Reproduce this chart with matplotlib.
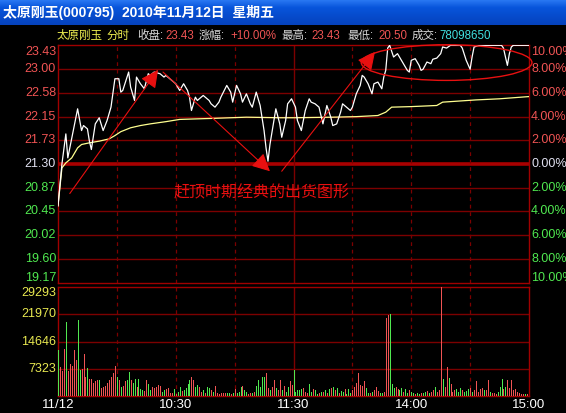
import matplotlib
matplotlib.use('Agg')
import matplotlib.pyplot as plt
import numpy as np
from matplotlib.patches import Ellipse
import matplotlib.transforms as mtrans

plt.rcParams['font.family'] = ['Liberation Sans', 'Noto Sans CJK SC', 'DejaVu Sans']

# ---------------- data ----------------
title = "太原刚玉(000795)  2010年11月12日  星期五"
prev_close = 21.30
price_levels = [23.43, 23.00, 22.58, 22.15, 21.73, 21.30, 20.87, 20.45, 20.02, 19.60, 19.17]
pct_labels = ['10.00%', '8.00%', '6.00%', '4.00%', '2.00%', '0.00%',
              '2.00%', '4.00%', '6.00%', '8.00%', '10.00%']
vol_levels = [29293, 21970, 14646, 7323]
time_ticks = [0, 60, 120, 180, 240]
time_labels = ['11/12', '10:30', '11:30', '14:00', '15:00']
dashed_minutes = [30, 60, 90, 150, 180, 210]
solid_minutes = [120]

price_min = [0, 2, 4, 5, 10, 12, 13, 15, 16, 17, 19, 21, 23, 25, 27, 29, 31, 32, 33, 36,
             37, 39, 40, 42, 44, 46, 47, 49, 52, 54, 55, 58, 60, 62, 64, 66, 67, 68, 70, 71,
             74, 77, 78, 80, 82, 83, 86, 88, 89, 91, 93, 94, 96, 98, 99, 101, 103, 105, 106, 107,
             108, 110, 111, 113, 114, 116, 117, 119, 121, 122, 124, 126, 128, 129, 131, 133, 134, 135, 137, 139,
             140, 142, 144, 145, 147, 149, 150, 152, 154, 155, 156, 158, 160, 161, 163, 165, 166, 167, 168, 169,
             171, 173, 174, 176, 178, 179, 180, 182, 184, 185, 186, 188, 190, 191, 193, 195, 196, 198, 200, 205,
             206, 208, 210, 211, 212, 215, 226, 227, 228, 229, 230, 231, 232, 240]
price_val = [20.55, 21.30, 21.84, 21.41, 22.29, 21.90, 21.99, 21.93, 21.71, 21.56, 22.02, 22.13, 21.90, 22.08, 22.32, 22.83, 22.83, 22.59, 22.62, 22.95,
             22.68, 22.44, 22.86, 22.74, 22.65, 22.92, 22.89, 22.95, 22.92, 22.86, 22.89, 22.80, 22.74, 22.62, 22.74, 22.62, 22.50, 22.26, 22.50, 22.44,
             22.53, 22.44, 22.38, 22.32, 22.41, 22.50, 22.71, 22.59, 22.41, 22.71, 22.56, 22.41, 22.56, 22.38, 22.32, 22.59, 22.35, 21.90, 21.59, 21.35,
             21.65, 22.08, 22.29, 22.02, 21.78, 22.08, 22.38, 22.47, 22.32, 22.08, 21.90, 22.26, 22.47, 22.41, 22.38, 22.32, 22.17, 22.02, 22.35, 22.14,
             21.99, 22.02, 22.23, 22.38, 22.32, 22.26, 22.32, 22.56, 22.71, 22.89, 22.86, 22.74, 22.56, 22.74, 22.77, 22.65, 22.86, 22.98, 23.38, 23.43,
             23.22, 23.28, 23.22, 23.10, 22.98, 22.95, 23.16, 23.19, 23.07, 22.98, 23.00, 23.13, 23.10, 23.18, 23.20, 23.28, 23.40, 23.38, 23.43, 23.43,
             23.38, 23.16, 23.00, 23.22, 23.40, 23.43, 23.43, 23.38, 23.22, 23.07, 23.28, 23.40, 23.43, 23.43]

avg_min = [0, 2, 4, 7, 10, 12, 16, 21, 26, 29, 32, 37, 42, 47, 55, 62, 80, 96, 113, 120,
           140, 152, 163, 167, 170, 180, 193, 196, 213, 225, 240]
avg_val = [20.55, 21.23, 21.32, 21.41, 21.59, 21.65, 21.68, 21.71, 21.75, 21.81, 21.88, 21.95, 21.99, 22.02, 22.06, 22.10, 22.12, 22.14, 22.13, 22.13,
           22.14, 22.15, 22.17, 22.23, 22.32, 22.33, 22.35, 22.41, 22.45, 22.47, 22.51]

volume = [12300, 7800, 6600, 12700, 19900, 6600, 8700, 8100, 12300, 9600,
          20400, 6900, 7200, 11400, 5100, 7500, 4500, 4500, 3600, 3900,
          4200, 4300, 2100, 2300, 2700, 3400, 4300, 5100, 6300, 8100,
          5100, 4300, 2500, 2700, 3900, 4300, 6500, 4300, 3600, 4700,
          2500, 4500, 1800, 1600, 1400, 4200, 3300, 1600, 2300, 2100,
          2500, 3000, 2700, 1200, 1600, 1800, 2100, 700, 900, 1800,
          500, 1200, 2500, 1400, 1600, 2100, 3300, 4200, 5200, 4200,
          2300, 3000, 2300, 1200, 1600, 700, 2500, 2100, 1600, 1200,
          2700, 700, 500, 700, 700, 900, 900, 700, 500, 900,
          1800, 700, 1100, 2300, 2700, 1600, 1200, 500, 700, 900,
          1200, 2700, 4300, 2300, 5200, 5100, 6300, 2100, 1600, 2500,
          4300, 2100, 1600, 4200, 1600, 2700, 1200, 2300, 3900, 3000,
          7000, 1200, 1600, 1600, 1800, 2100, 1200, 700, 3300, 1200,
          1800, 1600, 500, 900, 1200, 1200, 1600, 900, 1800, 2100,
          2300, 1600, 2100, 700, 1400, 1200, 1800, 500, 1800, 900,
          1600, 2300, 3400, 6100, 3000, 2700, 3900, 2100, 900, 700,
          1200, 1600, 2300, 1400, 700, 900, 1200, 21000, 21900, 22100,
          3300, 2100, 2300, 1800, 1600, 2100, 1200, 1800, 900, 1600,
          1200, 700, 500, 700, 500, 900, 700, 1200, 1400, 900,
          1200, 1600, 2300, 1200, 1600, 29200, 4500, 2500, 7800, 4800,
          3300, 1200, 1600, 1800, 1200, 2100, 1600, 1200, 1400, 1800,
          2100, 1200, 1600, 3900, 1200, 1800, 2100, 1600, 1600, 4300,
          1200, 700, 900, 500, 1200, 2300, 4700, 1800, 2500, 4200,
          2100, 4200, 1600, 1800, 1200, 700, 500, 500, 500, 500,
          5100]
up = [0, 1, 1, 1, 0, 1, 1, 1, 1, 1,
      0, 0, 1, 1, 1, 0, 1, 1, 1, 1,
      1, 0, 1, 1, 1, 1, 1, 1, 1, 1,
      0, 1, 0, 1, 1, 0, 0, 1, 0, 0,
      1, 0, 0, 0, 1, 1, 0, 0, 1, 1,
      1, 1, 1, 0, 0, 1, 1, 1, 1, 0,
      1, 0, 0, 1, 0, 0, 0, 0, 1, 1,
      0, 0, 1, 1, 0, 1, 0, 0, 1, 0,
      1, 1, 1, 1, 1, 1, 0, 0, 1, 0,
      1, 0, 0, 0, 1, 0, 0, 1, 1, 0,
      1, 0, 0, 0, 0, 0, 1, 1, 0, 1,
      1, 0, 1, 1, 0, 1, 0, 0, 1, 1,
      0, 0, 0, 0, 0, 1, 1, 1, 0, 0,
      1, 0, 0, 1, 0, 1, 0, 1, 0, 1,
      0, 1, 0, 1, 0, 0, 1, 0, 0, 0,
      1, 1, 1, 1, 1, 1, 1, 0, 0, 1,
      0, 1, 1, 1, 0, 0, 1, 1, 1, 0,
      0, 0, 1, 1, 0, 0, 1, 0, 0, 1,
      0, 0, 1, 0, 0, 1, 0, 0, 1, 0,
      1, 1, 0, 1, 1, 1, 0, 1, 1, 0,
      1, 1, 1, 0, 0, 0, 1, 0, 0, 0,
      1, 0, 1, 1, 1, 1, 1, 0, 1, 1,
      0, 1, 1, 1, 0, 0, 0, 1, 0, 1,
      1, 1, 1, 1, 1, 1, 1, 1, 0, 1,
      1]

# ---------------- figure ----------------
W, H = 566, 413
fig = plt.figure(figsize=(W / 100, H / 100), dpi=100, facecolor='black')


def fbox(x0, y0, x1, y1):
    return [x0 / W, 1 - y1 / H, (x1 - x0) / W, (y1 - y0) / H]


RED_GRID = '#7c0000'
FRAME = '#a00000'
UPC = '#f05454'
DNC = '#50e850'

# title bar
axt = fig.add_axes(fbox(0, 0, W, 25))
grad = np.linspace(0, 1, 50)
c_top = np.array([0.16, 0.47, 0.95])
c_mid = np.array([0.03, 0.33, 0.86])
c_bot = np.array([0.02, 0.26, 0.74])
rows = []
for g in grad:
    if g < 0.3:
        rows.append(c_top + (c_mid - c_top) * g / 0.3)
    else:
        rows.append(c_mid + (c_bot - c_mid) * (g - 0.3) / 0.7)
img = np.array(rows)[:, None, :].repeat(2, axis=1)
axt.imshow(img, aspect='auto', extent=[0, 1, 0, 1])
axt.set_axis_off()
fig.text(3 / W, 1 - 13 / H, title, color='white', fontsize=10, fontweight='bold',
         family=['Liberation Sans', 'Noto Sans CJK SC'], va='center', ha='left')

# header row
hy = 1 - 36 / H
hdr = [(57, '太原刚玉', '#f0f050'), (106, '分时', '#f0f050'),
       (137, '收盘:', '#d8d8d8'), (165, '23.43', UPC),
       (199, '涨幅:', '#d8d8d8'), (230, '+10.00%', UPC),
       (281, '最高:', '#d8d8d8'), (311, '23.43', UPC),
       (347, '最低:', '#d8d8d8'), (378, '20.50', UPC),
       (412, '成交:', '#d8d8d8'), (439, '78098650', '#40e0e0')]
for x, s, c in hdr:
    fig.text(x / W, hy, s, color=c, fontsize=8.3, va='center', ha='left',
             family=['Liberation Sans', 'Noto Sans CJK SC'])

# price panel
ax = fig.add_axes(fbox(58, 45.3, 529, 282.7))
ax.set_facecolor('black')
ax.set_xlim(0, 240)
ax.set_ylim(price_levels[-1], price_levels[0])
for sp in ax.spines.values():
    sp.set_color(FRAME)
    sp.set_linewidth(1)
ax.set_xticks([])
ax.set_yticks([])
for lv in price_levels[1:-1]:
    if abs(lv - prev_close) < 1e-6:
        ax.axhline(lv, color='#a80000', lw=2.6, zorder=1)
    else:
        ax.axhline(lv, color=RED_GRID, lw=1, zorder=1)
for m in dashed_minutes:
    ax.axvline(m, color=RED_GRID, lw=0.9, ls=(0, (3, 3)), zorder=1)
for m in solid_minutes:
    ax.axvline(m, color=RED_GRID, lw=1, zorder=1)

ax.plot(avg_min, avg_val, color='#ffff90', lw=0.9, zorder=3)
ax.plot(price_min, price_val, color='white', lw=0.9, zorder=4)

# price labels
n = len(price_levels)
for k, (lv, pl) in enumerate(zip(price_levels, pct_labels)):
    if lv > prev_close + 1e-6:
        col = UPC
    elif lv < prev_close - 1e-6:
        col = DNC
    else:
        col = '#e0e0f0'
    dy = 0
    if k == 0:
        dy = -7
    elif k == n - 1:
        dy = 5
    trl = mtrans.offset_copy(ax.get_yaxis_transform(), fig=fig, x=-2, y=dy, units='dots')
    ax.text(0, lv, f'{lv:.2f}', transform=trl, color=col, fontsize=9,
            ha='right', va='center', clip_on=False)
    trr = mtrans.offset_copy(ax.get_yaxis_transform(), fig=fig, x=2, y=dy, units='dots')
    ax.text(1, lv, pl, transform=trr, color=col, fontsize=9,
            ha='left', va='center', clip_on=False)

# annotations
red = '#e81010'
arrows = [((6, 20.77), (51, 22.99)), ((53.5, 22.95), (108, 21.17)), ((114, 21.17), (161.5, 23.31))]
for (xs, ys), (xe, ye) in arrows:
    ax.annotate('', xy=(xe, ye), xytext=(xs, ys),
                arrowprops=dict(arrowstyle='-|>,head_length=0.9,head_width=0.45',
                                color=red, lw=0.8, shrinkA=0, shrinkB=0,
                                mutation_scale=12), zorder=5)
ax.add_patch(Ellipse((198, 23.12), 87, 0.64, fill=False, ec=red, lw=1.0,
                     clip_on=False, zorder=5))
ax.text(59, 20.79, '赶顶时期经典的出货图形', color=red, fontsize=11.5,
        family=['Noto Sans CJK SC'], ha='left', va='center', zorder=5)

# volume panel
axv = fig.add_axes(fbox(58, 287, 529, 396))
axv.set_facecolor('black')
axv.set_xlim(0, 240)
axv.set_ylim(0, vol_levels[0])
for sp in axv.spines.values():
    sp.set_color(FRAME)
    sp.set_linewidth(1)
axv.set_xticks([])
axv.set_yticks([])
for lv in vol_levels[1:]:
    axv.axhline(lv, color=RED_GRID, lw=1, zorder=1)
for m in dashed_minutes:
    axv.axvline(m, color=RED_GRID, lw=0.9, ls=(0, (3, 3)), zorder=1)
for m in solid_minutes:
    axv.axvline(m, color=RED_GRID, lw=1, zorder=1)
mins = np.arange(len(volume))
cols = [UPC if u else DNC for u in up]
axv.vlines(mins, 0, volume, colors=cols, linewidth=0.6, zorder=3,
           antialiased=False)
for k, lv in enumerate(vol_levels):
    dy = -6 if k == 0 else 0
    tr = mtrans.offset_copy(axv.get_yaxis_transform(), fig=fig, x=-2, y=dy, units='dots')
    axv.text(0, lv, str(lv), transform=tr, color='#e8e850', fontsize=9,
             ha='right', va='center', clip_on=False)

# time labels
trt = mtrans.offset_copy(axv.get_xaxis_transform(), fig=fig, x=0, y=-9, units='dots')
for t, lab in zip(time_ticks, time_labels):
    axv.text(t, 0, lab, transform=trt, color='white', fontsize=9.5, ha='center',
             va='center', clip_on=False)

fig.savefig('out.png', dpi=100, facecolor='black')
